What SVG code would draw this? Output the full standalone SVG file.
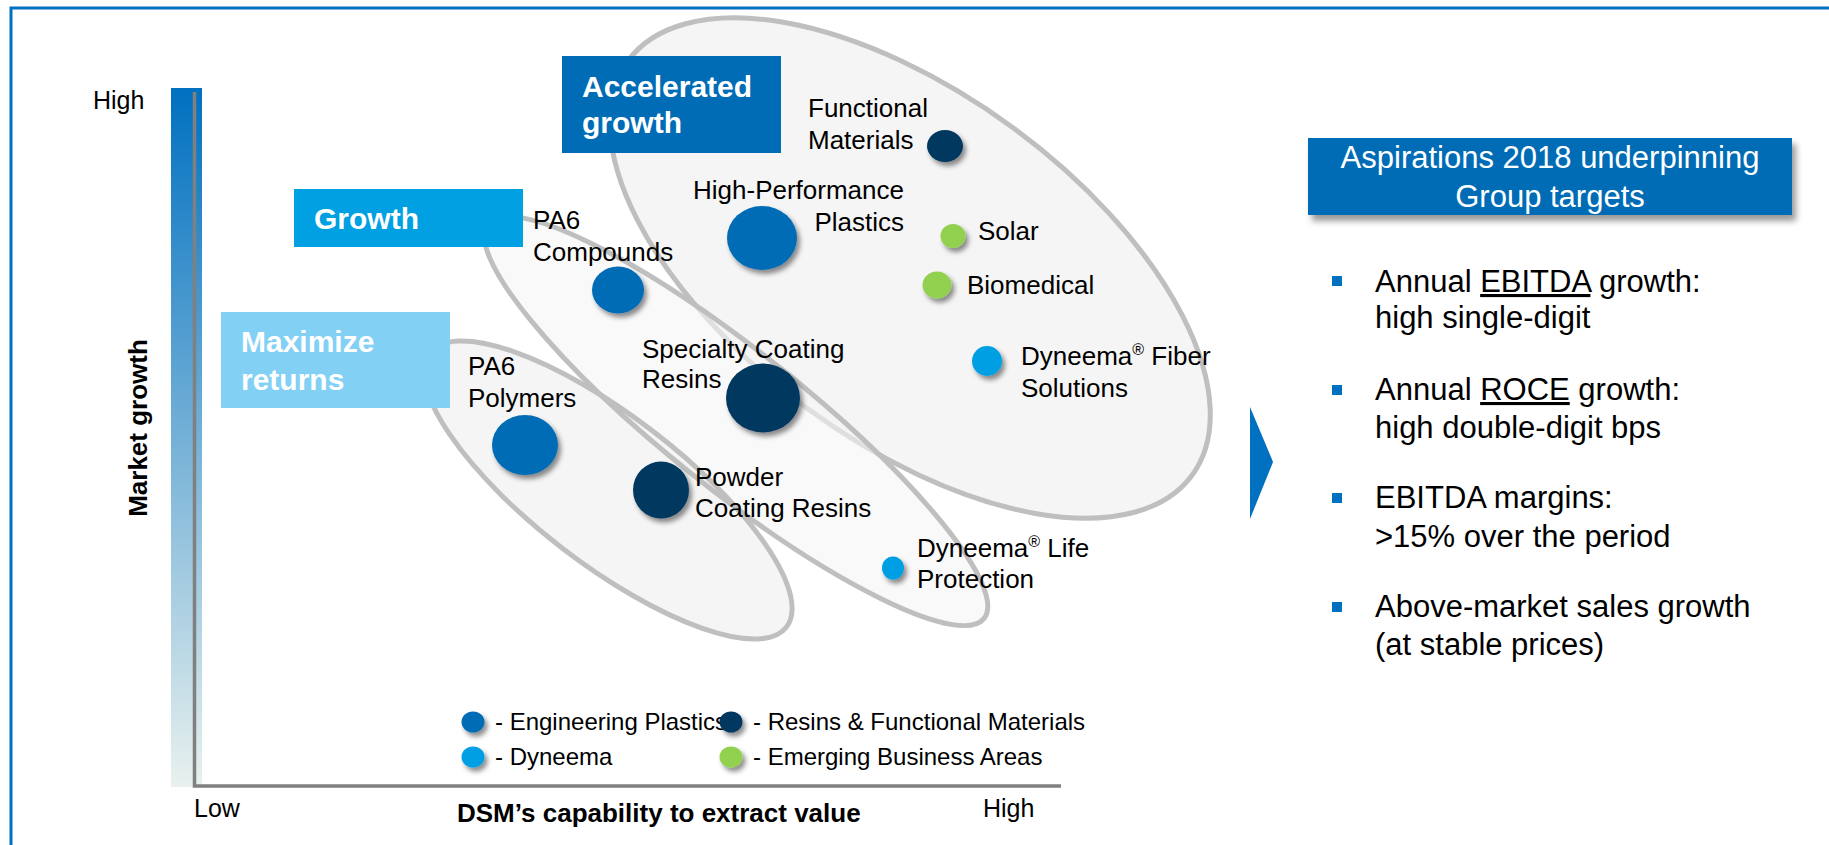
<svg xmlns="http://www.w3.org/2000/svg" width="1829" height="845" viewBox="0 0 1829 845">
<defs>
<linearGradient id="ybar" x1="0" y1="0" x2="0" y2="1">
<stop offset="0" stop-color="#0070C0"/>
<stop offset="1" stop-color="#E8F1EE"/>
</linearGradient>
<filter id="sh" x="-50%" y="-50%" width="200%" height="200%">
<feDropShadow dx="3" dy="4" stdDeviation="2.5" flood-color="#000" flood-opacity="0.45"/>
</filter>
<filter id="shbox" x="-10%" y="-30%" width="130%" height="180%">
<feDropShadow dx="4" dy="6" stdDeviation="3" flood-color="#000" flood-opacity="0.4"/>
</filter>
<style>
text{font-family:"Liberation Sans",Arial,sans-serif;fill:#000}
.lbl{font-size:26px}
.leg{font-size:24px}
.box{font-size:30px;font-weight:bold;fill:#fff}
.rp{font-size:31px}
.eb{fill:#F5F5F5}
.es{fill:none;stroke:#BFBFBF;stroke-width:5}
.ep{fill:#006CB5}
.rf{fill:#00385F}
.dy{fill:#009FE3}
.em{fill:#92D050}
.bul{fill:#0070C0}
</style>
</defs>
<rect width="1829" height="845" fill="#fff"/>
<rect x="11" y="8" width="1830" height="850" fill="none" stroke="#0070C0" stroke-width="3"/>

<g id="axes">
<rect x="171" y="88" width="31" height="699" fill="url(#ybar)"/>
<path d="M194.5 92 V786 H1061" fill="none" stroke="#808080" stroke-width="3.5"/>
<text x="93" y="109" font-size="25">High</text>
<text x="194" y="817" font-size="25">Low</text>
<text x="983" y="817" font-size="25">High</text>
<text transform="translate(147,428) rotate(-90)" text-anchor="middle" font-size="26" font-weight="bold">Market growth</text>
<text x="457" y="822" font-size="26" font-weight="bold">DSM’s capability to extract value</text>
</g>

<g id="clusters">
<ellipse class="eb" cx="910" cy="268" rx="350" ry="174" transform="rotate(36.3 910 268)"/>
<ellipse class="es" cx="910" cy="268" rx="350" ry="174" transform="rotate(36.3 910 268)"/>
<ellipse class="eb" cx="736" cy="421" rx="317" ry="69" transform="rotate(38.5 736 421)" fill-opacity="0.6"/>
<ellipse class="eb" cx="608" cy="490" rx="225" ry="74" transform="rotate(37.5 608 490)"/>
<ellipse class="es" cx="736" cy="421" rx="317" ry="69" transform="rotate(38.5 736 421)"/>
<ellipse class="es" cx="608" cy="490" rx="225" ry="74" transform="rotate(37.5 608 490)"/>
</g>

<g id="box-accelerated">
<rect x="562" y="56" width="219" height="97" fill="#006CB5"/>
<text class="box" x="582" y="97">Accelerated</text>
<text class="box" x="582" y="133">growth</text>
</g>
<g id="box-growth">
<rect x="294" y="189" width="229" height="58" fill="#00A0E2"/>
<text class="box" x="314" y="229">Growth</text>
</g>
<g id="box-maximize">
<rect x="221" y="312" width="229" height="96" fill="#83D0F5"/>
<text class="box" x="241" y="352">Maximize</text>
<text class="box" x="241" y="390">returns</text>
</g>

<g id="node-functional-materials">
<ellipse class="rf" cx="945" cy="146" rx="18" ry="16" filter="url(#sh)"/>
<text class="lbl" x="808" y="117">Functional</text>
<text class="lbl" x="808" y="149">Materials</text>
</g>
<g id="node-hpp">
<ellipse class="ep" cx="762" cy="238" rx="35" ry="32" filter="url(#sh)"/>
<text class="lbl" x="904" y="199" text-anchor="end">High-Performance</text>
<text class="lbl" x="904" y="231" text-anchor="end">Plastics</text>
</g>
<g id="node-solar">
<ellipse class="em" cx="953" cy="236" rx="12.5" ry="12" filter="url(#sh)"/>
<text class="lbl" x="978" y="240">Solar</text>
</g>
<g id="node-biomedical">
<ellipse class="em" cx="937" cy="285" rx="14.5" ry="13.5" filter="url(#sh)"/>
<text class="lbl" x="967" y="294">Biomedical</text>
</g>
<g id="node-dyneema-fiber">
<ellipse class="dy" cx="987" cy="361" rx="15" ry="15" filter="url(#sh)"/>
<text class="lbl" x="1021" y="365">Dyneema<tspan font-size="16" dy="-10">®</tspan><tspan dy="10"> Fiber</tspan></text>
<text class="lbl" x="1021" y="397">Solutions</text>
</g>
<g id="node-pa6-compounds">
<ellipse class="ep" cx="618" cy="290" rx="26" ry="23.5" filter="url(#sh)"/>
<text class="lbl" x="533" y="229">PA6</text>
<text class="lbl" x="533" y="261">Compounds</text>
</g>
<g id="node-specialty">
<ellipse class="rf" cx="763" cy="398" rx="37" ry="34.5" filter="url(#sh)"/>
<text class="lbl" x="642" y="358">Specialty Coating</text>
<text class="lbl" x="642" y="388">Resins</text>
</g>
<g id="node-pa6-polymers">
<ellipse class="ep" cx="525" cy="445" rx="33" ry="30" filter="url(#sh)"/>
<text class="lbl" x="468" y="375">PA6</text>
<text class="lbl" x="468" y="407">Polymers</text>
</g>
<g id="node-powder">
<ellipse class="rf" cx="661" cy="490" rx="28" ry="28.5" filter="url(#sh)"/>
<text class="lbl" x="695" y="486">Powder</text>
<text class="lbl" x="695" y="517">Coating Resins</text>
</g>
<g id="node-dyneema-life">
<ellipse class="dy" cx="893" cy="568" rx="11" ry="11.5" filter="url(#sh)"/>
<text class="lbl" x="917" y="557">Dyneema<tspan font-size="16" dy="-10">®</tspan><tspan dy="10"> Life</tspan></text>
<text class="lbl" x="917" y="588">Protection</text>
</g>

<g id="legend">
<ellipse class="ep" cx="473" cy="722" rx="11.5" ry="10.5" filter="url(#sh)"/>
<text class="leg" x="495" y="730">- Engineering Plastics</text>
<ellipse class="rf" cx="731" cy="722" rx="11.5" ry="10.5" filter="url(#sh)"/>
<text class="leg" x="753" y="730">- Resins &amp; Functional Materials</text>
<ellipse class="dy" cx="473" cy="757" rx="11.5" ry="10.5" filter="url(#sh)"/>
<text class="leg" x="495" y="765">- Dyneema</text>
<ellipse class="em" cx="731" cy="757" rx="11.5" ry="10.5" filter="url(#sh)"/>
<text class="leg" x="753" y="765">- Emerging Business Areas</text>
</g>

<g id="connectors">
<polygon points="1250,407 1273,462 1250,519" fill="#0070C0"/>
</g>

<g id="aspirations">
<rect x="1308" y="138" width="484" height="77" fill="#006CB5" filter="url(#shbox)"/>
<text class="rp" x="1550" y="168" text-anchor="middle" fill="#fff" style="fill:#fff">Aspirations 2018 underpinning</text>
<text class="rp" x="1550" y="207" text-anchor="middle" style="fill:#fff">Group targets</text>
<rect class="bul" x="1332" y="276" width="10" height="10"/>
<text class="rp" x="1375" y="292">Annual <tspan text-decoration="underline">EBITDA</tspan> growth:</text>
<text class="rp" x="1375" y="328">high single-digit</text>
<rect class="bul" x="1332" y="385" width="10" height="10"/>
<text class="rp" x="1375" y="400">Annual <tspan text-decoration="underline">ROCE</tspan> growth:</text>
<text class="rp" x="1375" y="438">high double-digit bps</text>
<rect class="bul" x="1332" y="493" width="10" height="10"/>
<text class="rp" x="1375" y="508">EBITDA margins:</text>
<text class="rp" x="1375" y="547">&gt;15% over the period</text>
<rect class="bul" x="1332" y="602" width="10" height="10"/>
<text class="rp" x="1375" y="617">Above-market sales growth</text>
<text class="rp" x="1375" y="655">(at stable prices)</text>
</g>
</svg>
